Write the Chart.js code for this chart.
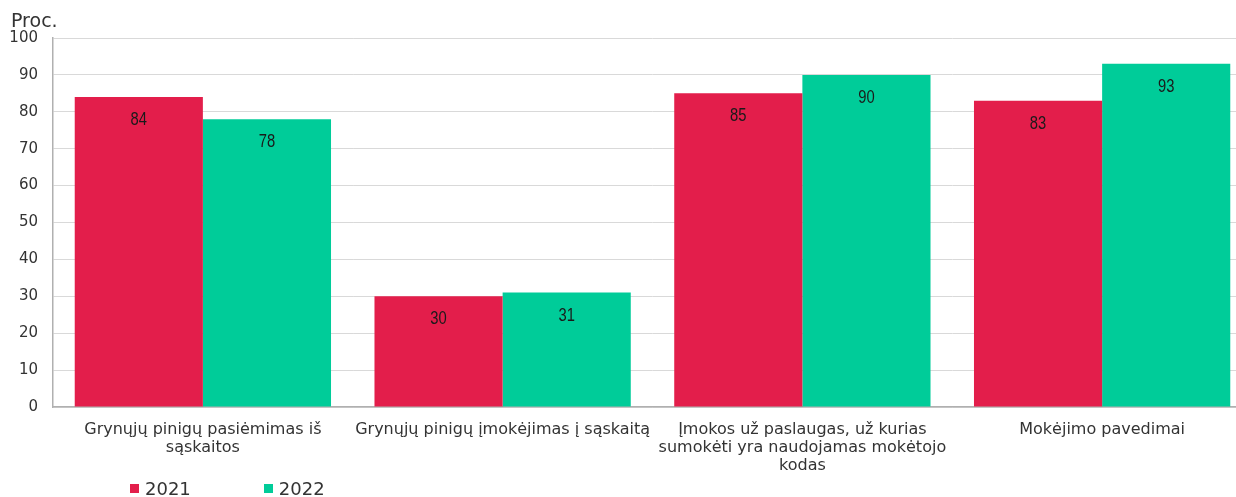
<!DOCTYPE html>
<html>
<head>
<meta charset="utf-8">
<script src="https://cdn.jsdelivr.net/npm/chart.js@4"></script>
<style>
  html, body { margin: 0; padding: 0; background: #fff; overflow: hidden; width: 1236px; height: 497px; }
  #wrap { position: absolute; left: 0; top: 0; width: 1252px; height: 497px; }
  #proc { position: absolute; left: 11px; top: 9px; font-family: "DejaVu Sans", Verdana, sans-serif; font-size: 19px; color: #333; }
  #legend { position: absolute; left: 130px; top: 478px; font-family: "DejaVu Sans", Verdana, sans-serif; font-size: 18px; color: #333; display: flex; }
  .item { display: flex; align-items: center; margin-right: 73px; }
  .sw { width: 9px; height: 9px; margin-right: 6px; display: inline-block; }
</style>
</head>
<body>
<div id="wrap"><canvas id="c" width="1252" height="497"></canvas></div>
<div id="proc">Proc.</div>
<div id="legend"></div>
<script>
const categories = [
  ["Grynųjų pinigų pasiėmimas iš", "sąskaitos"],
  ["Grynųjų pinigų įmokėjimas į sąskaitą"],
  ["Įmokos už paslaugas, už kurias", "sumokėti yra naudojamas mokėtojo", "kodas"],
  ["Mokėjimo pavedimai"]
];
const seriesNames = ["2021", "2022"];
const values2021 = [84, 30, 85, 83];
const values2022 = [78, 31, 90, 93];
const seriesColors = ["#E31E4B", "#00CC99"];
const yTicks = [0, 10, 20, 30, 40, 50, 60, 70, 80, 90, 100];

const legendEl = document.getElementById('legend');
seriesNames.forEach((n, i) => {
  const d = document.createElement('div'); d.className = 'item';
  d.innerHTML = '<span class="sw" style="background:' + seriesColors[i] + '"></span>' + n;
  legendEl.appendChild(d);
});

const barLabels = {
  id: 'barLabels',
  afterDatasetsDraw(chart) {
    const ctx = chart.ctx;
    chart.data.datasets.forEach((ds, di) => {
      chart.getDatasetMeta(di).data.forEach((el, i) => {
        ctx.save();
        ctx.translate(el.x, el.y + 23);
        ctx.scale(0.82, 1);
        ctx.font = '18px "Liberation Sans", Arial, sans-serif';
        ctx.fillStyle = '#1a1a1a';
        ctx.textAlign = 'center';
        ctx.textBaseline = 'middle';
        ctx.fillText(String(ds.data[i]), 0, 0);
        ctx.restore();
      });
    });
  }
};

new Chart(document.getElementById('c'), {
  type: 'bar',
  data: {
    labels: categories,
    datasets: [
      { label: seriesNames[0], data: values2021, backgroundColor: seriesColors[0], borderWidth: 0, categoryPercentage: 0.855, barPercentage: 1.0 },
      { label: seriesNames[1], data: values2022, backgroundColor: seriesColors[1], borderWidth: 0, categoryPercentage: 0.855, barPercentage: 1.0 }
    ]
  },
  options: {
    responsive: false,
    animation: false,
    layout: { padding: { left: 0, top: 38, right: 0, bottom: 8 } },
    plugins: { legend: { display: false }, tooltip: { enabled: false } },
    scales: {
      x: {
        grid: { display: false, drawTicks: false },
        border: { display: true, color: '#b0b0b0', width: 1.5 },
        ticks: {
          maxRotation: 0, autoSkip: false, padding: 14,
          color: '#333',
          font: { family: '"DejaVu Sans", Verdana, sans-serif', size: 16, lineHeight: 1.125 }
        }
      },
      y: {
        min: 0, max: 100,
        afterBuildTicks(scale) { scale.ticks = yTicks.map(v => ({ value: v })); },
        afterFit(scale) { scale.width = 53; },
        grid: { color: '#d9d9d9', drawTicks: false },
        border: { display: true, color: '#b0b0b0', width: 1.5 },
        ticks: {
          padding: 15, color: '#333',
          font: { family: '"DejaVu Sans", Verdana, sans-serif', size: 15 }
        }
      }
    }
  },
  plugins: [barLabels]
});
</script>
</body>
</html>
